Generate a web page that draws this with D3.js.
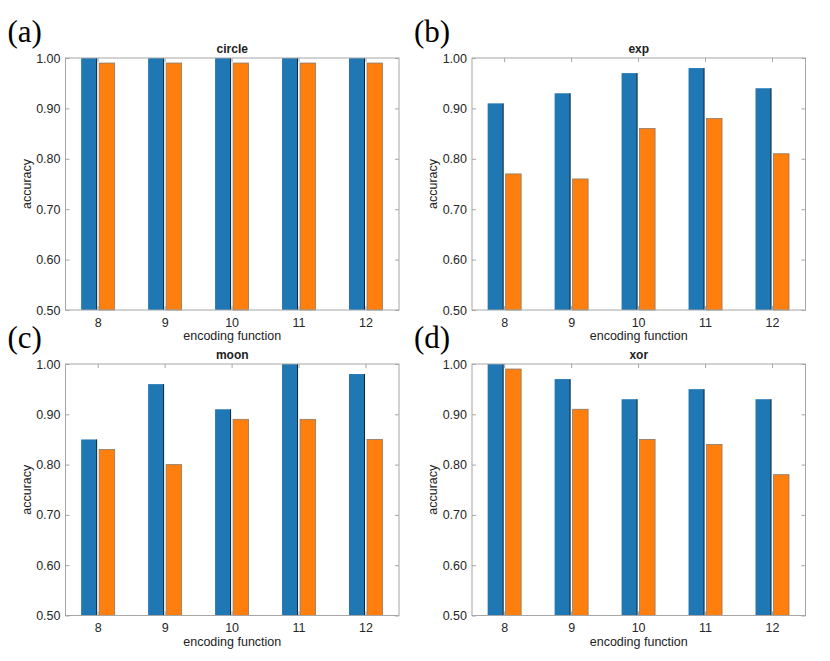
<!DOCTYPE html>
<html>
<head>
<meta charset="utf-8">
<script src="https://cdn.jsdelivr.net/npm/d3@7"></script>
<style>
  body { margin: 0; background: #fff; }
  svg { display: block; }
  text { font-family: "Liberation Sans", Arial, Helvetica, sans-serif; fill: #222; }
  .axis path, .axis line { stroke: #a6a6a6; }
  .axis text { font-size: 12.5px; fill: #262626; }
  .title { font-weight: bold; font-size: 12px; }
  .panel-label { font-family: "Liberation Serif", "DejaVu Serif", serif; font-size: 31px; fill: #000; }
</style>
</head>
<body>
<script>
// encoding function values on the x axis
var categories = [8, 9, 10, 11, 12];
var yTicks = [0.5, 0.6, 0.7, 0.8, 0.9, 1.0];

var titles = ["circle", "exp", "moon", "xor"];
var labels = ["(a)", "(b)", "(c)", "(d)"];

// blue series / orange series for each panel
var circleBlue = [1.00, 1.00, 1.00, 1.00, 1.00];
var circleOrange = [0.99, 0.99, 0.99, 0.99, 0.99];
var expBlue = [0.91, 0.93, 0.97, 0.98, 0.94];
var expOrange = [0.77, 0.76, 0.86, 0.88, 0.81];
var moonBlue = [0.85, 0.96, 0.91, 1.00, 0.98];
var moonOrange = [0.83, 0.80, 0.89, 0.89, 0.85];
var xorBlue = [1.00, 0.97, 0.93, 0.95, 0.93];
var xorOrange = [0.99, 0.91, 0.85, 0.84, 0.78];

var blueSeries = [circleBlue, expBlue, moonBlue, xorBlue];
var orangeSeries = [circleOrange, expOrange, moonOrange, xorOrange];

var width = 830, height = 661;

// panel boxes (left, right, top, bottom)
var cols = [[65.5, 399], [472, 805.5]];
var rows = [[58, 310], [364, 615.5]];

var svg = d3.select("body").append("svg")
    .attr("width", width)
    .attr("height", height);

titles.forEach(function(t, p) {
    var c = cols[p % 2], r = rows[Math.floor(p / 2)];

    var x = d3.scaleLinear().domain([7.52, 12.5]).range(c);
    var y = d3.scaleLinear().domain([0.5, 1.0]).range([r[1], r[0]]);

    var g = svg.append("g");

    // bars
    var bw = 15.5;
    categories.forEach(function(cat, i) {
        var cx = x(cat);
        var vb = blueSeries[p][i], vo = orangeSeries[p][i];

        g.append("rect")
            .attr("x", cx - 16.5).attr("y", y(vb))
            .attr("width", bw).attr("height", y(0.5) - y(vb))
            .attr("fill", "#1f77b4");
        // dark edge on right of blue bar
        g.append("line")
            .attr("x1", cx - 16.5 + bw).attr("x2", cx - 16.5 + bw)
            .attr("y1", y(vb)).attr("y2", y(0.5))
            .attr("stroke", "#0b2233").attr("stroke-width", 1);

        g.append("rect")
            .attr("x", cx + 1.5).attr("y", y(vo))
            .attr("width", bw).attr("height", y(0.5) - y(vo))
            .attr("fill", "#ff7f0e")
            .attr("stroke", "#8a7a6a").attr("stroke-width", 0.8);
    });

    // box
    g.append("rect")
        .attr("x", c[0]).attr("y", r[0])
        .attr("width", c[1] - c[0]).attr("height", r[1] - r[0])
        .attr("fill", "none").attr("stroke", "#a6a6a6").attr("stroke-width", 1);

    // axes with inward ticks
    g.append("g").attr("class", "axis")
        .attr("transform", "translate(0," + r[1] + ")")
        .call(d3.axisBottom(x).tickValues(categories).tickSize(-4).tickSizeOuter(0).tickPadding(8).tickFormat(d3.format("d")))
        .call(function(s) { s.select(".domain").remove(); });
    g.append("g").attr("class", "axis")
        .attr("transform", "translate(0," + r[0] + ")")
        .call(d3.axisTop(x).tickValues(categories).tickSize(-4).tickSizeOuter(0).tickFormat(""))
        .call(function(s) { s.select(".domain").remove(); });
    g.append("g").attr("class", "axis")
        .attr("transform", "translate(" + c[0] + ",0)")
        .call(d3.axisLeft(y).tickValues(yTicks).tickSize(-4).tickSizeOuter(0).tickPadding(5).tickFormat(d3.format(".2f")))
        .call(function(s) { s.select(".domain").remove(); });
    g.append("g").attr("class", "axis")
        .attr("transform", "translate(" + c[1] + ",0)")
        .call(d3.axisRight(y).tickValues(yTicks).tickSize(-4).tickSizeOuter(0).tickFormat(""))
        .call(function(s) { s.select(".domain").remove(); });

    var mid = (c[0] + c[1]) / 2;

    g.append("text").attr("class", "title")
        .attr("x", mid).attr("y", r[0] - 5.5)
        .attr("text-anchor", "middle")
        .text(t);

    g.append("text")
        .attr("x", mid).attr("y", r[1] + 30)
        .attr("text-anchor", "middle")
        .style("font-size", "12.5px")
        .text("encoding function");

    g.append("text")
        .attr("transform", "translate(" + (c[0] - 35) + "," + ((r[0] + r[1]) / 2) + ") rotate(-90)")
        .attr("text-anchor", "middle")
        .style("font-size", "12.5px")
        .text("accuracy");

    g.append("text").attr("class", "panel-label")
        .attr("x", c[0] - 58).attr("y", r[0] - 16)
        .text(labels[p]);
});
</script>
</body>
</html>
